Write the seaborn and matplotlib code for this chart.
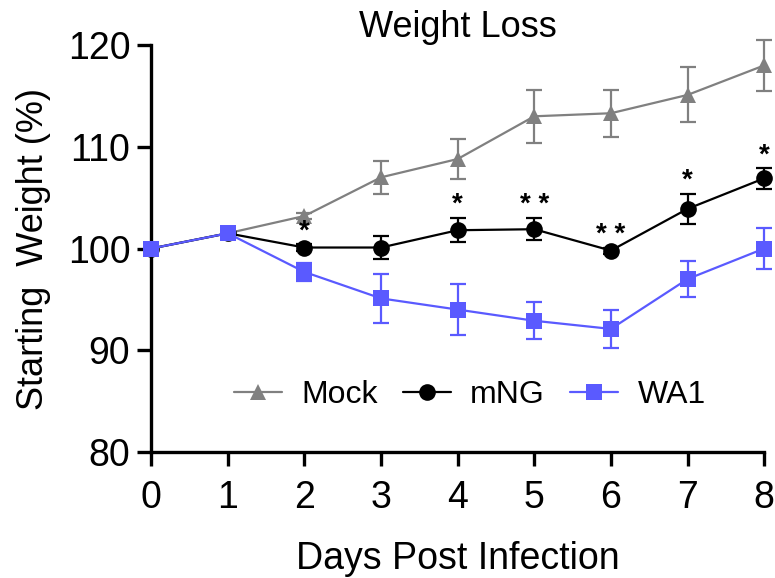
import matplotlib
matplotlib.use("Agg")
import matplotlib.pyplot as plt
import pandas as pd
import seaborn as sns

# ── data ──────────────────────────────────────────────────────────────────────
days = [0, 1, 2, 3, 4, 5, 6, 7, 8]

mock     = [100.0, 101.5, 103.2, 107.0, 108.8, 113.0, 113.3, 115.1, 118.0]
mock_err = [0.0, 0.2, 0.3, 1.6, 2.0, 2.6, 2.3, 2.7, 2.5]

mng      = [100.0, 101.5, 100.1, 100.1, 101.8, 101.9, 99.8, 103.9, 106.9]
mng_err  = [0.0, 0.3, 0.3, 1.1, 1.2, 1.1, 0.3, 1.5, 1.0]

wa1      = [100.0, 101.5, 97.7, 95.1, 94.0, 92.9, 92.1, 97.0, 100.0]
wa1_err  = [0.0, 0.3, 0.9, 2.4, 2.5, 1.8, 1.9, 1.8, 2.0]

stars = ["", "", "*", "", "*", "* *", "* *", "*", "*"]

groups  = ["Mock", "mNG", "WA1"]
colors  = {"Mock": "#808080", "mNG": "#000000", "WA1": "#5a5aff"}
markers = {"Mock": "^", "mNG": "o", "WA1": "s"}

df = pd.DataFrame({
    "day": days * 3,
    "weight": mock + mng + wa1,
    "err": mock_err + mng_err + wa1_err,
    "group": ["Mock"] * 9 + ["mNG"] * 9 + ["WA1"] * 9,
})

# ── plot ──────────────────────────────────────────────────────────────────────
sns.set_style("ticks")
plt.rcParams["font.family"] = ["Liberation Sans", "DejaVu Sans"]
for key in ["text.color", "axes.labelcolor", "xtick.color", "ytick.color",
            "axes.edgecolor"]:
    plt.rcParams[key] = "black"

fig = plt.figure(figsize=(7.75, 5.78), dpi=100)
ax = fig.add_axes([0.195, 0.218, 0.791, 0.704])

for g in groups:
    sub = df[df["group"] == g]
    ax.errorbar(sub["day"], sub["weight"], yerr=sub["err"], fmt="none",
                ecolor=colors[g], elinewidth=1.6, capsize=5.5, capthick=1.6,
                zorder=2, clip_on=False)

sns.lineplot(data=df, x="day", y="weight", hue="group", style="group",
             palette=colors, markers=markers, dashes=False, hue_order=groups,
             style_order=groups, linewidth=1.6, markersize=12,
             markeredgewidth=0, ax=ax, zorder=3, clip_on=False, legend=True)

# significance marks above the mNG error bars
for d, y, e, s in zip(days, mng, mng_err, stars):
    if s:
        ax.annotate(s, xy=(d, y + e), xytext=(0, 0), textcoords="offset points",
                    ha="center", va="bottom", fontsize=20, fontweight="bold")

ax.set_xlim(0, 8)
ax.set_ylim(80, 120)
ax.set_xticks(days)
ax.set_yticks([80, 90, 100, 110, 120])
ax.tick_params(labelsize=27, width=2.4, length=10, pad=5)
ax.tick_params(axis="x", pad=10)
for side in ["left", "bottom"]:
    ax.spines[side].set_linewidth(2.4)
sns.despine(ax=ax)

ax.set_xlabel("Days Post Infection", fontsize=27, labelpad=18)
ax.set_ylabel("Starting  Weight (%)", fontsize=26, labelpad=12)
ax.set_title("Weight Loss", fontsize=26, pad=4)

handles, labels = ax.get_legend_handles_labels()
ax.legend(handles, labels, loc="center", bbox_to_anchor=(0.52, 0.14), ncol=3,
          frameon=False, fontsize=23, handlelength=1.5, columnspacing=0.8,
          handletextpad=0.6)

fig.savefig("out.png", dpi=100)
plt.close(fig)
